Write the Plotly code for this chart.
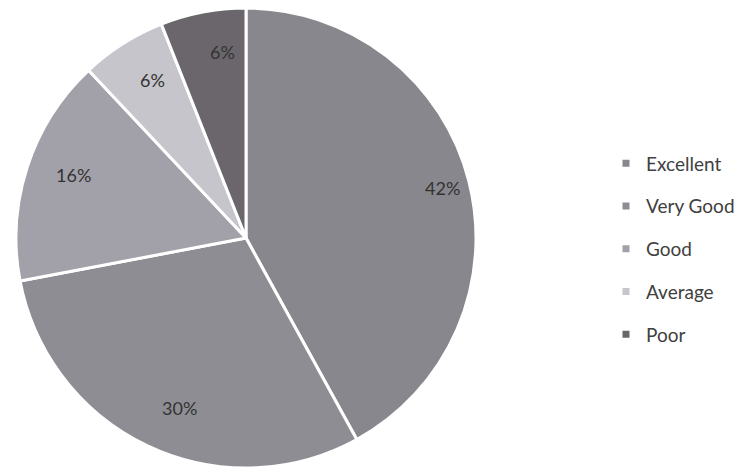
import math
import plotly.graph_objects as go

categories = ["Excellent", "Very Good", "Good", "Average", "Poor"]
values = [42, 30, 16, 6, 6]
colors = ["#88878d", "#8e8d94", "#a2a1a9", "#c6c5cb", "#6a666c"]

W, H = 744, 473
R = 230
cx_px, cy_px = 238, 230
dom_x = [(cx_px - R) / W, (cx_px + R) / W]
dom_y = [max(0, 1 - (cy_px + R) / H), min(1, 1 - (cy_px - R) / H)]

fig = go.Figure()
fig.add_trace(go.Pie(
    labels=categories, values=values, sort=False, direction="clockwise",
    rotation=0, marker=dict(colors=colors, line=dict(color="white", width=3)),
    textinfo="none", hoverinfo="label+percent", showlegend=False,
    domain=dict(x=dom_x, y=dom_y),
))

# legend entries (square swatches)
for i, (cat, col) in enumerate(zip(categories, colors)):
    fig.add_trace(go.Scatter(
        x=[None], y=[None], mode="markers", name=cat, legendgroup=f"g{i}",
        marker=dict(symbol="square", size=7, color=col),
        showlegend=True, hoverinfo="skip",
    ))

total = sum(values)
cum = 0
cxp = cx_px / W
cyp = 1 - cy_px / H
for v in values:
    mid = (cum + v / 2) / total * 2 * math.pi
    cum += v
    r = R * 0.88
    fig.add_annotation(
        x=cxp + r * math.sin(mid) / W, y=cyp + r * math.cos(mid) / H,
        xref="paper", yref="paper", text=f"{round(v / total * 100)}%",
        showarrow=False, font=dict(size=18, color="#333333", family="Lato"),
    )

fig.update_layout(
    width=W, height=H, margin=dict(l=0, r=0, t=0, b=0),
    paper_bgcolor="white", plot_bgcolor="white",
    font=dict(family="Lato", color="#404040", size=19),
    xaxis=dict(visible=False), yaxis=dict(visible=False),
    legend=dict(x=598 / W, xanchor="left", y=1 - 241 / H, yanchor="middle",
                font=dict(size=19, color="#404040", family="Lato"),
                itemwidth=30, tracegroupgap=15, bgcolor="rgba(0,0,0,0)"),
)
fig.write_html("out.html")
